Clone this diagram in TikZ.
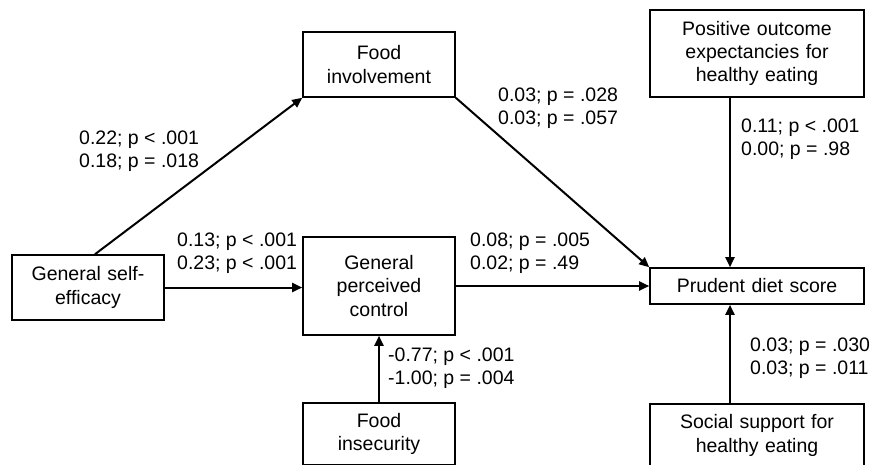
\documentclass[tikz,border=0pt]{standalone}
\usepackage{fontspec}
\setmainfont{Liberation Sans}
\usetikzlibrary{arrows.meta}
\begin{document}
\begin{tikzpicture}[x=1pt,y=-1pt,
  every node/.style={font=\fontsize{19.5}{23.3}\selectfont},
  box/.style={draw, line width=1.6pt, align=center, inner sep=0pt, text width=#1},
  lbl/.style={anchor=west, align=left, inner sep=0pt},
  conn/.style={line width=2pt, -{Triangle[length=10pt,width=9pt]}}]
\useasboundingbox (0,0) rectangle (877,464);
\clip (0,0) rectangle (877,464);
\node[box=152pt, minimum height=65pt] (fi) at (379,64.5) {Food\\involvement};
\node[box=152pt, minimum height=65pt] (se) at (88,287.5) {General self-\\efficacy};
\node[box=152pt, minimum height=98pt] (gpc) at (379,286) {General\\perceived\\control};
\node[box=152pt, minimum height=62pt] (fin) at (379,434) {Food\\insecurity};
\node[box=214pt, minimum height=87pt] (po) at (757,53.5) {Positive outcome\\expectancies for\\healthy eating};
\node[box=214pt, minimum height=36pt] (pd) at (757,286) {Prudent diet score};
\node[box=214pt, minimum height=63pt] (ss) at (757,435.5) {Social support for\\healthy eating};

\draw[conn] ([xshift=7pt]se.north) -- (fi.south west);
\draw[conn] (se.east) -- (gpc.west |- se.east);
\draw[conn] (fi.south east) -- (pd.north west);
\draw[conn] (gpc.east |- pd.west) -- (pd.west);
\draw[conn] ([xshift=-27pt]po.south) -- ([xshift=-27pt]pd.north);
\draw[conn] ([xshift=-27pt]ss.north) -- ([xshift=-27pt]pd.south);
\draw[conn] (fin.north) -- (gpc.south);

\node[lbl] (l1) at (79,151.5) {0.22; p < .001\\0.18; p = .018};
\node[lbl] (l2) at (177,253.5) {0.13; p < .001\\0.23; p < .001};
\node[lbl] (l3) at (388,368) {-0.77; p < .001\\-1.00; p = .004};
\node[lbl] (l4) at (498,108) {0.03; p = .028\\0.03; p = .057};
\node[lbl] (l5) at (470,253) {0.08; p = .005\\0.02; p = .49};
\node[lbl] (l6) at (741,139) {0.11; p < .001\\0.00; p = .98};
\node[lbl] (l7) at (750,358) {0.03; p = .030\\0.03; p = .011};
\end{tikzpicture}
\end{document}
